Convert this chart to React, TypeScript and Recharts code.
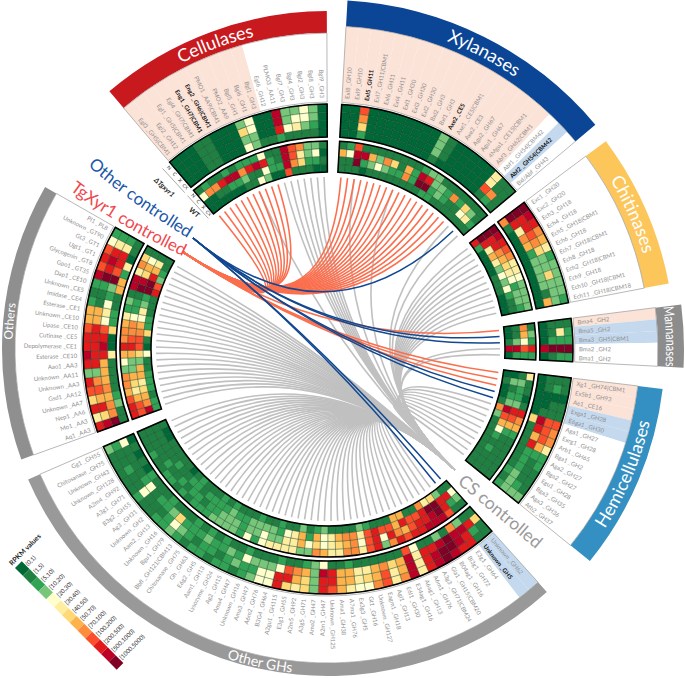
import React from 'react';
import { PieChart, Pie, Customized } from 'recharts';

const W = 685, H = 678, CX = 328, CY = 349;

const palette = ['#006837','#1f8042','#31a354','#78c679','#ffffcc','#ffeda0','#fed976','#feb24c','#fd8d3c','#fc4e2a','#e31a1c','#bd0026','#800026'];
const legendLabels = ['(0,1)','[1,5)','[5,10)','[10,20)','[20,30)','[30,40)','[40,50)','[50,70)','[70,100)','[100,200)','[200,500)','[500,1000)','[1000,5000)'];

const cellGenes = ['Egl3 _GH5|CBM1','Egl2 _GH12','Egl1 _GH5|CBM1','Egl4 _GH7|CBM1','*Eng1 _GH7|CBM1','*Eng2 _GH6|CBM1','PMO1 _AA9|CBM1','PMO2 _AA9','Bgl5 _GH1','Bgl6 _GH1','Bgl1 _GH3','Egl6 _GH12','PLMO3 _AA11','Bgl7 _GH3','Bgl4 _GH3','Bgl2 _GH3','Bgl8 _GH3','Bgl9 _GH3'];
const xylGenes = ['Exl8 _GH10','Exl9 _GH10','*Exl5 _GH11','Exl7 _GH11|CBM1','Exl6 _GH11','Exl4 _GH11','Exl1 _GH30','Exl3 _GH30','Exl2 _GH30','Bxl2 _GH3','Bxl1 _GH3','*Axe2 _CE5','Axe1 _CE5|CBM1','Axe2 _CE3','Agu2 _GH67','Agu1 _GH67','4Mgu1 _CE15|CBM1','Abf3 _GH62|CBM1','Abf1 _GH54|CBM42','*Abf2 _GH54|CBM42','Bxl/Abf _GH43'];
const chiGenes = ['Exc1 _GH20','Exc2 _GH20','Ech3 _GH18','Ech4 _GH18','Ech5 _GH18|CBM1','Ech6 _GH18','Ech7 _GH18|CBM1','Ech8 _GH18','Ech2 _GH18|CBM1','Ech9 _GH18','Ech10 _GH18|CBM1','Ech11 _GH18|CBM18'];
const manGenes = ['Bma4 _GH2','Bma5 _GH2','Bma3 _GH5|CBM1','Bma2 _GH2','Bma1 _GH2'];
const hemGenes = ['Xg1 _GH74|CBM1','Ex5b1 _GH93','Ae1 _CE16','Exga1 _GH28','E6ga1 _GH30','Aga1 _GH27','Exrg1 _GH28','Arb1 _GH65','Bga1 _GH2','Aga2 _GH27','Bga2 _GH27','Egu1 _GH28','Bga3 _GH35','Aga3 _GH36','Atb2 _GH37'];
const ghGenes = ['Unknown _GH62','*Unknown _GH5','E3g1 _GH64','Bl3g1 _GH72','B04ag1 _GH16','Gla1 _GH15|CBM20','A3g3 _GH71|CBM24','A6m1 _GH76','A6ag1 _GH13','E34ag1 _GH16','E6l1 _GH30','Agl1 _GH13','Eagm1 _GH18','Unknown _GH127','Gt1 _GH16','Ex3g3 _GH5','A7ma1 _GH76','Ama1 _GH38','Unknown _GH125','A2m1 _GH47','Ama2 _GH47','A3g5 _GH71','A2m5 _GH92','E3g1 _GH55','A2gu1 _GH115','B3G4 _GH64','A6m2 _GH76','Ama3 _GH47','Unknown _GH16','Ama4 _GH47','Ag2 _GH15','Lysozyme _GH24','Aam1 _GH13','E6g2 _GH5','Gh _GH63','Chitosanase _GH75','Bbfl _GH121|CBM13','Bgu1 _GH79','Unknown _GH16','Aam2 _GH13','Unknown _GH2','Ag3 _GH31','B3g2 _GH55','A3g1 _GH71','A2m4 _GH92','Unknown _GH128','Unknown _GH43','Chitosanase _GH75','Gg1 _GH55'];
const othGenes = ['Aq1 _AA3','Mo1 _AA3','Nep1 _AA6','Unknown _AA7','Gsd1 _AA12','Unknown _AA3','Unknown _AA11','Aao1 _AA3','Esterase _CE10','Depolymerase _CE1','Cutinase _CE5','Lipase _CE10','Unknown _CE10','Esterase _CE1','Imidase _CE4','Unknown _CE5','Dap1 _CE10','Gpo1 _GT35','Glycogenin _GT8','Ugt1 _GT1','Gt3 _GT1','Unknown _GT90','Pl1 _PL8'];

// class index per row (hex digit into palette), one string per track, outermost track first
const cellOuter = ['000110003400b33430','000110006400b34430','000110003300a45320','000110004311211110'];
const cellInner = ['121121222411b98331','488abb8aba21b95340','001122311422b86221','000000114300911100'];
const xylOuter = ['009000000003100000511','008000000003100000511','006000000003100000981','002000000001000000121'];
const xylInner = ['1291111111'+'1233111111'+'1','74bb738617'+'2ba3328263'+'1','11c2343228'+'2cc2321145'+'2','1110111111'+'1122111111'+'1'];
const chiOuter = ['cba875233332','caa986336333','ca5872333317','810000000000'];
const chiInner = ['cba985543333','caa876542332','ca5753434211','a20000111000'];
const manOuter = ['122c2','152c2','112c1','000b0'];
const manInner = ['132a2','87492','113b2','001b0'];
const hemOuter = ['110119885221113','120119997211123','11001ba7a222333','000006111111212'];
const hemInner = ['51101a872111111','13223a972111111','03123b974212111','010018311111111'];
const ghOuter = [
  '11aabcba5b'+'859844579a'+'3656a44'+'3212212212'+'3221121111'+'13',
  '12abccba5b'+'75976577aa'+'367aa44'+'2232122123'+'4211141121'+'12',
  '6abbcbaa5b'+'76875577ab'+'3789433'+'3423223222'+'6322142111'+'14',
  '1138131149'+'1111112114'+'3211211'+'1211212121'+'1121112010'+'10',
];
const ghInner = [
  '119bbbaa9a'+'83a9588557'+'8335555'+'4242333322'+'2121221121'+'11',
  '32acbaa978'+'a4a9487654'+'6475533'+'4332333221'+'2212112111'+'11',
  '4aacca99a7'+'99a9588754'+'7275423'+'3332232222'+'1221121111'+'11',
  '1136581177'+'1112311113'+'2131121'+'1211121211'+'1210111110'+'01',
];

const othOuterRows = ['2221','4551','9aa0','aba5','9a92','bcc7','2237','1121','2141','7752','7742','9a96','aaa0','aab0','baa5','aa71','3371','a871','9981','6772','aa83','5681','abc1'];
const othInnerRows = ['1111','6451','8772','56a3','bbc9','bcca','1121','3231','2251','5442','7872','8886','8991','aa90','7764','4331','3371','8772','8652','7562','9771','a982','a9b2'];

// row regulation: p = TgXyr1 controlled, b = other controlled, w = CS controlled
const cellReg = 'pppppppppppwwwwwww';
const xylReg = 'ppppppppppppppppppwbw';
const chiReg = 'wwwwwwwwwwww';
const manReg = 'pbbww';
const hemReg = 'pppbbwwwwwwwwww';
const ghReg = 'bb' + 'w'.repeat(47);
const othReg = 'w'.repeat(23);

// rows that also link to the CS group
const cellAlsoCS = [7];
const xylAlsoCS = [2, 8];

const tracks = (rows: string[]) => [0, 1, 2, 3].map((t) => rows.map((r) => r[t]).reverse().join(''));

const groups = [
  { id: 'cell', name: 'Cellulases', s: -40.3, e: -0.2, bandIn: 316, bandOut: 338, color: '#c8191e', font: 18, genes: cellGenes, reg: cellReg, outer: cellOuter, inner: cellInner, also: cellAlsoCS, base: 321, ccw: false, fit: 0, off: 0 },
  { id: 'xyl', name: 'Xylanases', s: 3.2, e: 50, bandIn: 323, bandOut: 349, color: '#0b4595', font: 18, genes: xylGenes, reg: xylReg, outer: xylOuter, inner: xylInner, also: xylAlsoCS, base: 330, ccw: false, fit: 0, off: 1.2 },
  { id: 'chi', name: 'Chitinases', s: 53.2, e: 79.1, bandIn: 322, bandOut: 347, color: '#fdc65a', font: 18, genes: chiGenes, reg: chiReg, outer: chiOuter, inner: chiInner, also: [], base: 329, ccw: false, fit: 0, off: 0 },
  { id: 'man', name: 'Mannanases', s: 82.8, e: 93, bandIn: 330, bandOut: 356, color: '#8c8c8c', font: 14, genes: manGenes, reg: manReg, outer: manOuter, inner: manInner, also: [], base: 338, ccw: false, fit: 60, off: 0 },
  { id: 'hem', name: 'Hemicellulases', s: 96.8, e: 129, bandIn: 312, bandOut: 337, color: '#3490c2', font: 18, genes: hemGenes, reg: hemReg, outer: hemOuter, inner: hemInner, also: [], base: 330, ccw: true, fit: 0, off: 0 },
  { id: 'gh', name: 'Other GHs', s: 138, e: 246.5, bandIn: 314, bandOut: 327, color: '#999999', font: 14, genes: ghGenes, reg: ghReg, outer: ghOuter, inner: ghInner, also: [], base: 325.5, ccw: true, fit: 0, off: 0 },
  { id: 'oth', name: 'Others', s: 250.2, e: 299.8, bandIn: 313, bandOut: 326, color: '#8f8f8f', font: 12, genes: othGenes, reg: othReg, outer: tracks(othOuterRows), inner: tracks(othInnerRows), also: [], base: 315.5, ccw: false, fit: 0, off: 0 },
];

const regBg: Record<string, string> = { p: '#fce3d8', b: '#c5d9ee', w: '#ffffff' };
const linkColor: Record<string, string> = { p: '#fb6f4e', b: '#12488f', w: '#c0c0c0' };
const hubs: Record<string, [number, number]> = { p: [183, 252], b: [193, 238], w: [455, 470] };

const outerTracks = [[245, 236.75], [236.75, 228.5], [228.5, 220.25], [220.25, 212]];
const innerTracks = [[208, 200.25], [200.25, 192.5], [192.5, 184.75], [184.75, 177]];

const pt = (r: number, theta: number): [number, number] => {
  const a = ((theta - 90) * Math.PI) / 180;
  return [CX + r * Math.cos(a), CY + r * Math.sin(a)];
};

const font = 'Lato, sans-serif';

const geneLabel = (props: any) => {
  const gene: string = props.gene ?? props.payload?.gene;
  if (!gene) return null;
  const bold = gene.startsWith('*');
  const theta = 90 - props.midAngle;
  const [x, y] = pt(251, theta);
  const sn = Math.sin((theta * Math.PI) / 180);
  const right = sn >= 0;
  const rot = right ? theta - 90 : theta + 90;
  return (
    <text key={gene + props.index} x={x} y={y} transform={`rotate(${rot} ${x} ${y})`} textAnchor={right ? 'start' : 'end'} dominantBaseline="central" fontFamily={font} fontSize={6} fontWeight={bold ? 700 : 400} fill={bold ? '#111' : '#8f8f8f'}>
      {bold ? gene.slice(1) : gene}
    </text>
  );
};

const bandLabel = (g: (typeof groups)[number]) => (props: any) => {
  const mid = (g.s + g.e) / 2 + g.off;
  const span = 40;
  const a = pt(g.base, g.ccw ? mid + span : mid - span);
  const b = pt(g.base, g.ccw ? mid - span : mid + span);
  const d = `M${a[0]},${a[1]} A${g.base},${g.base} 0 0 ${g.ccw ? 0 : 1} ${b[0]},${b[1]}`;
  const extra = g.fit ? { textLength: g.fit, lengthAdjust: 'spacingAndGlyphs' } : {};
  return (
    <g key={g.id}>
      <path id={`arc-${g.id}`} d={d} fill="none" stroke="none" />
      <text fontFamily={font} fontSize={g.font} fill="#fff">
        <textPath href={`#arc-${g.id}`} startOffset="50%" textAnchor="middle" {...extra}>{g.name}</textPath>
      </text>
    </g>
  );
};

const Links = () => {
  const items: { key: string; d: string; kind: string }[] = [];
  groups.forEach((g) => {
    const step = (g.e - g.s) / g.genes.length;
    g.reg.split('').forEach((kind, i) => {
      const th = g.s + step * (i + 0.5);
      const p0 = pt(172, th);
      const add = (k: string, tag: string) => {
        const h = hubs[k];
        items.push({ key: `${g.id}${i}${tag}`, kind: k, d: `M${p0[0]},${p0[1]} Q${CX},${CY} ${h[0]},${h[1]}` });
      };
      add(kind, 'a');
      if (g.also.includes(i)) add('w', 'x');
    });
  });
  const order = ['w', 'p', 'b'];
  return (
    <g>
      {order.map((k) => items.filter((it) => it.kind === k).map((it) => (
        <path key={it.key} d={it.d} fill="none" stroke={linkColor[k]} strokeWidth={k === 'b' ? 1.5 : 1.6} />
      )))}
    </g>
  );
};

const Annotations = () => {
  const th = -41.2;
  const names = ['N', 'C', 'X', 'CX'];
  const ringLabel = (tr: number[][], key: string) => tr.map((t, i) => {
    const [x, y] = pt((t[0] + t[1]) / 2, th);
    return <text key={key + i} x={x} y={y} transform={`rotate(45 ${x} ${y})`} textAnchor="middle" dominantBaseline="central" fontFamily={font} fontSize={i === 3 ? 4.6 : 5} fill="#222">{names[i]}</text>;
  });
  const l1a = pt(245, -42.5), l1b = pt(212, -42.5), l2a = pt(208, -42.5), l2b = pt(177, -42.5);
  const [dx, dy] = pt(230, -45.2);
  const [wx, wy] = pt(191, -44.2);
  return (
    <g>
      {ringLabel(outerTracks, 'o')}
      {ringLabel(innerTracks, 'i')}
      <line x1={l1a[0]} y1={l1a[1]} x2={l1b[0]} y2={l1b[1]} stroke="#555" strokeWidth={0.5} />
      <line x1={l2a[0]} y1={l2a[1]} x2={l2b[0]} y2={l2b[1]} stroke="#555" strokeWidth={0.5} />
      <text x={dx} y={dy} transform={`rotate(42 ${dx} ${dy})`} textAnchor="middle" dominantBaseline="central" fontFamily={font} fontStyle="italic" fontSize={7} fontWeight={700} fill="#222">ΔTgxyr1</text>
      <text x={wx} y={wy} transform={`rotate(42 ${wx} ${wy})`} textAnchor="middle" dominantBaseline="central" fontFamily={font} fontSize={7} fontWeight={700} fill="#222">WT</text>

      <path id="p-other" d="M88,166 Q132,205 204,248" fill="none" />
      <text fontFamily={font} fontSize={17} fill="#1a56a8"><textPath href="#p-other">Other controlled</textPath></text>
      <path id="p-tg" d="M70,190 Q118,226 195,262" fill="none" />
      <text fontFamily={font} fontSize={17} fill="#f0484e"><textPath href="#p-tg">TgXyr1 controlled</textPath></text>
      <path id="p-cs" d="M457,483 L550,561" fill="none" />
      <text fontFamily={font} fontSize={17.5} fill="#9a9a9a"><textPath href="#p-cs">CS controlled</textPath></text>

      <g transform="translate(15,568) rotate(45)">
        {palette.map((c, i) => <rect key={c} x={i * 11.06} y={-9.5} width={11.06} height={9.5} fill={c} />)}
        {legendLabels.map((t, i) => (
          <text key={t} x={i * 11.06 + 5.5} y={-10.5} transform={`rotate(-90 ${i * 11.06 + 5.5} -10.5)`} dominantBaseline="central" fontFamily={font} fontSize={6} fill="#222">{t}</text>
        ))}
      </g>
      <text x={12} y={566} transform="rotate(-45 12 566)" fontFamily={font} fontSize={7} fontWeight={700} fill="#222">RPKM values</text>
    </g>
  );
};

export default function App() {
  const common = { cx: CX, cy: CY, dataKey: 'v', isAnimationActive: false, labelLine: false, tooltipType: 'none' } as any;
  return (
    <div style={{ position: 'absolute', left: 0, top: 0, width: W, height: H, background: '#fff' }}>
      <PieChart width={W} height={H} margin={{ top: 0, right: 0, bottom: 0, left: 0 }}>
        {groups.map((g) => (
          <Pie key={g.id + 'band'} {...common} data={[{ v: 1, fill: g.color }]} innerRadius={g.bandIn} outerRadius={g.bandOut} startAngle={90 - g.s} endAngle={90 - g.e} stroke="none" label={bandLabel(g)} />
        ))}
        {groups.map((g) => (
          <Pie key={g.id + 'zone'} {...common} data={g.genes.map((n, i) => ({ v: 1, gene: n, fill: regBg[g.reg[i]] }))} innerRadius={247} outerRadius={g.bandIn} startAngle={90 - g.s} endAngle={90 - g.e} stroke="none" label={geneLabel} />
        ))}
        {groups.map((g) => (
          <Pie key={g.id + 'zoneline'} {...common} data={[{ v: 1, fill: 'none' }]} innerRadius={247} outerRadius={g.bandIn} startAngle={90 - g.s} endAngle={90 - g.e} stroke="#9a9a9a" strokeWidth={0.7} label={false} />
        ))}
        {groups.flatMap((g) => [
          ...g.outer.map((row, t) => ({ g, row, t, r: outerTracks[t], tag: 'o' })),
          ...g.inner.map((row, t) => ({ g, row, t, r: innerTracks[t], tag: 'i' })),
        ]).map(({ g, row, t, r, tag }) => (
          <Pie key={g.id + tag + t} {...common} data={g.genes.map((_, i) => ({ v: 1, fill: palette[parseInt(row[i] ?? '0', 16)] }))} innerRadius={r[1]} outerRadius={r[0]} startAngle={90 - g.s} endAngle={90 - g.e} stroke="#0d3b22" strokeWidth={0.35} label={false} />
        ))}
        {groups.flatMap((g) => [[245, 212], [208, 177]].map((r) => (
          <Pie key={g.id + 'edge' + r[0]} {...common} data={[{ v: 1, fill: 'none' }]} innerRadius={r[1]} outerRadius={r[0]} startAngle={90 - g.s} endAngle={90 - g.e} stroke="#000" strokeWidth={1.5} label={false} />
        )))}
        <Customized component={Links} />
        <Customized component={Annotations} />
      </PieChart>
    </div>
  );
}
